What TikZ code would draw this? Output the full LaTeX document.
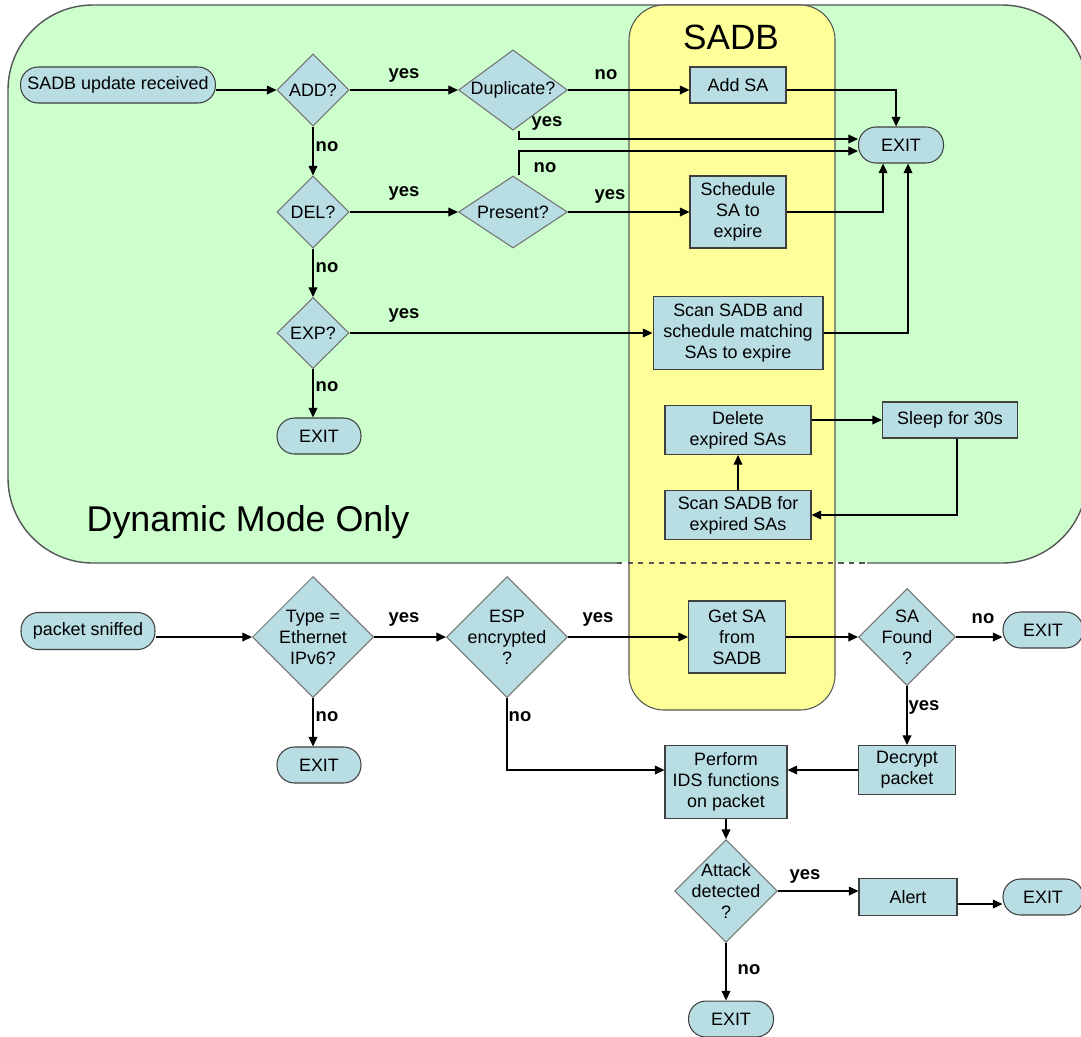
\documentclass[tikz,border=0pt]{standalone}
\usepackage{fontspec}
\setmainfont{Liberation Sans}
\usetikzlibrary{arrows.meta,shapes.geometric}
\definecolor{dynfill}{HTML}{CCFFCC}
\definecolor{sadbfill}{HTML}{FFFF99}
\definecolor{stepfill}{HTML}{B8DDE3}
\definecolor{rim}{HTML}{555555}

\begin{document}
\begin{tikzpicture}[x=0.02cm,y=-0.02cm,box/.style={draw=black!75,fill=stepfill,line width=.6pt,inner sep=2pt,align=center,font=\fontsize{10.2}{12}\selectfont},dia/.style={box,shape=diamond,draw=black!55,inner sep=-3pt},term/.style={box,rounded corners=.35cm,minimum height=.72cm},lbl/.style={font=\fontsize{10.5}{12}\selectfont\bfseries,inner sep=0pt},a/.style={-{Triangle[length=5.5pt,width=5pt]},line width=.75pt}]
\useasboundingbox (0,0) rectangle (1081,1036);
% regions
\draw[draw=rim,fill=dynfill,line width=.8pt,rounded corners=1.7cm] (8,5) rectangle (1087,563);
\draw[white,line width=1.2pt] (617,563) -- (867,563);
\draw[draw=rim,fill=sadbfill,line width=.6pt,rounded corners=.7cm] (629,5) rectangle (835,710);
\draw[rim,dashed,line width=.6pt] (617,563) -- (867,563);
\node[font=\fontsize{20}{24}\selectfont] (sadbtitle) at (731,37) {SADB};
\node[font=\fontsize{20.4}{24}\selectfont] (dynmode) at (248,522) {Dynamic Mode Only};
% update handling
\node[term,minimum width=3.9cm] (upd) at (118,85) {SADB update received};
\node[dia,minimum width=1.44cm,minimum height=1.44cm] (add) at (313,90) {ADD?};
\node[dia,minimum width=2.18cm,minimum height=1.44cm] (dup) at (513,90) {Duplicate?};
\node[box,minimum width=1.92cm,minimum height=.72cm] (addsa) at (738,85) {Add SA};
\node[term,minimum width=1.7cm] (exitA) at (901,145) {EXIT};
\node[dia,minimum width=1.44cm,minimum height=1.44cm] (del) at (313,212) {DEL?};
\node[dia,minimum width=2.18cm,minimum height=1.44cm] (pres) at (513,212) {Present?};
\node[box,minimum width=1.92cm,minimum height=1.44cm] (sched) at (738,212) {Schedule\\SA to\\expire};
\node[dia,minimum width=1.44cm,minimum height=1.42cm] (exp) at (313,333) {EXP?};
\node[box,minimum width=3.4cm,minimum height=1.46cm] (scan) at (738,333) {Scan SADB and\\schedule matching\\SAs to expire};
\node[term,minimum width=1.68cm] (exitB) at (319,436) {EXIT};
\node[box,minimum width=2.92cm,minimum height=.98cm] (dele) at (738,430) {Delete\\expired SAs};
\node[box,minimum width=2.7cm,minimum height=.72cm] (sleep) at (950,420) {Sleep for 30s};
\node[box,minimum width=2.92cm,minimum height=.98cm] (scanexp) at (738,515) {Scan SADB for\\expired SAs};
\draw[a] (upd.east |- add) -- (add); \draw[a] (add) -- (dup); \draw[a] (dup) -- (dup -| addsa.west);
\draw[a] (dup -| addsa.east) -| ([xshift=-2.8pt]exitA.north);
\draw[a] ([xshift=3.4pt]dup.south) |- ([yshift=3.4pt]exitA.west);
\draw[a] ([xshift=3.4pt]pres.north) |- ([yshift=-3.4pt]exitA.west);
\draw[a] (add) -- (del); \draw[a] (del) -- (pres); \draw[a] (pres) -- (sched);
\draw[a] (sched) -| ([xshift=-10.2pt]exitA.south);
\draw[a] (del) -- (exp); \draw[a] (exp) -- (scan);
\draw[a] (scan) -| ([xshift=4pt]exitA.south);
\draw[a] (exp) -- (exp |- exitB.north);
\draw[a] (dele.east |- sleep) -- (sleep);
\draw[a] ([xshift=4pt]sleep.south) |- (scanexp);
\draw[a] (scanexp) -- (dele);
\node[lbl] (addyes) at (404,75) {yes}; \node[lbl] (dupno) at (606,75) {no};
\node[lbl] (dupyes) at (547,123) {yes}; \node[lbl] (presno) at (545,168) {no};
\node[lbl] (addno) at (327,147) {no}; \node[lbl] (delyes) at (404,193) {yes};
\node[lbl] (presyes) at (610,196) {yes}; \node[lbl] (delno) at (327,268) {no};
\node[lbl] (expyes) at (404,315) {yes}; \node[lbl] (expno) at (327,387) {no};
% packet handling
\node[term,minimum width=2.68cm,minimum height=.74cm] (pkt) at (88,631) {packet sniffed};
\node[dia,minimum width=2.42cm,minimum height=2.42cm] (type) at (313,637) {Type =\\Ethernet\\IPv6?};
\node[term,minimum width=1.68cm] (exitC) at (319,765) {EXIT};
\node[dia,minimum width=2.42cm,minimum height=2.42cm] (esp) at (507,637) {ESP\\encrypted\\?};
\node[box,minimum width=1.94cm,minimum height=1.44cm] (getsa) at (737,637) {Get SA\\from\\SADB};
\node[dia,minimum width=1.94cm,minimum height=1.94cm] (found) at (907,637) {SA\\Found\\?};
\node[term,minimum width=1.6cm] (exitD) at (1043,630) {EXIT};
\node[box,minimum width=1.94cm,minimum height=.98cm] (decr) at (907,770) {Decrypt\\packet};
\node[box,minimum width=2.44cm,minimum height=1.46cm] (perf) at (726,782) {Perform\\IDS functions\\on packet};
\node[dia,minimum width=1.94cm,minimum height=1.94cm] (att) at (726,891) {Attack\\detected\\?};
\node[box,minimum width=1.96cm,minimum height=.74cm] (alert) at (908,897) {Alert};
\node[term,minimum width=1.6cm] (exitE) at (1043,897) {EXIT};
\node[term,minimum width=1.7cm] (exitF) at (731,1019) {EXIT};
\draw[a] (pkt.east |- type) -- (type); \draw[a] (type) -- (esp); \draw[a] (esp) -- (getsa); \draw[a] (getsa) -- (found);
\draw[a] (found) -- (found -| exitD.west);
\draw[a] (type) -- (type |- exitC.north);
\draw[a] (found) -- (decr); \draw[a] (decr) -- (decr -| perf.east);
\draw[a] (esp) |- (perf.west |- decr);
\draw[a] (perf) -- (att); \draw[a] (att) -- (att -| alert.west);
\draw[a] ([yshift=-4pt]alert.east) -- ([yshift=-4pt]exitE.west);
\draw[a] (att) -- (att |- exitF.north);
\node[lbl] (typeyes) at (404,619) {yes}; \node[lbl] (typeno) at (327,717) {no};
\node[lbl] (espyes) at (598,619) {yes}; \node[lbl] (espno) at (520,717) {no};
\node[lbl] (foundno) at (983,619) {no}; \node[lbl] (foundyes) at (924,707) {yes};
\node[lbl] (attyes) at (805,876) {yes}; \node[lbl] (attno) at (749,970) {no};
\end{tikzpicture}
\end{document}
